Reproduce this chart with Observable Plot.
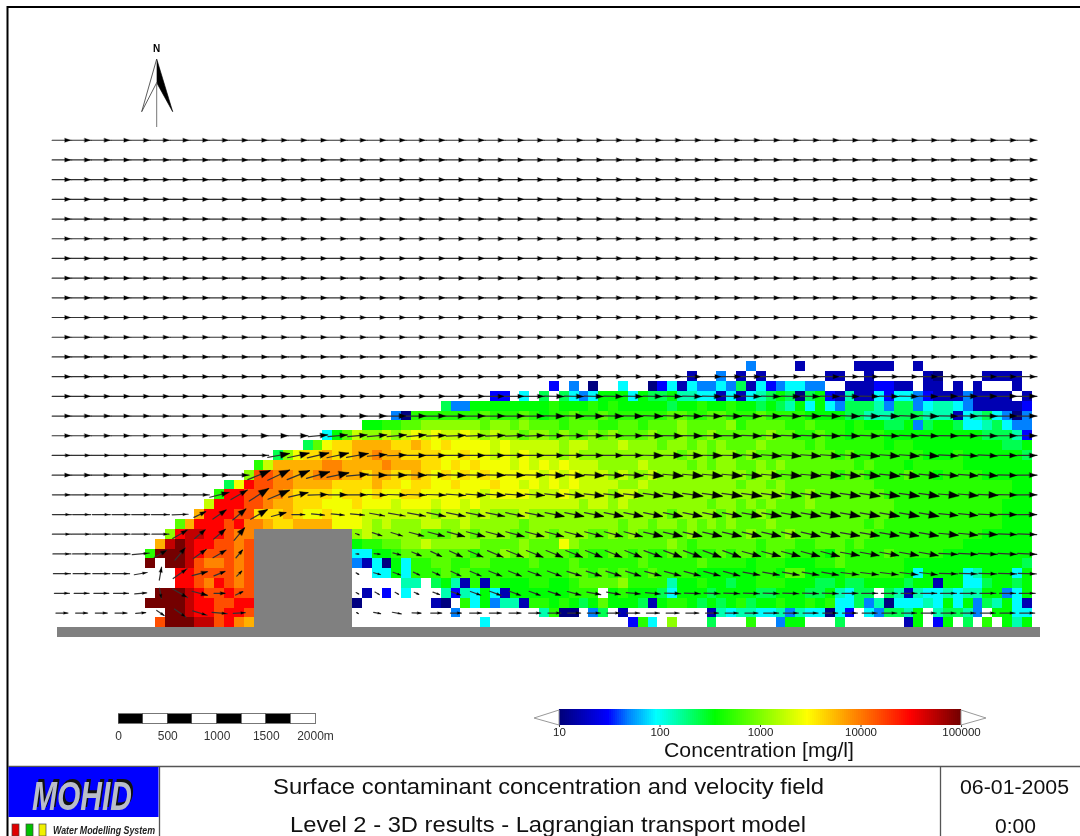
<!DOCTYPE html>
<html><head><meta charset="utf-8">
<script src="https://cdn.jsdelivr.net/npm/d3@7"></script>
<script src="https://cdn.jsdelivr.net/npm/@observablehq/plot@0.6"></script>
<style>
html,body{margin:0;padding:0;background:#fff;width:1080px;height:836px;overflow:hidden}
#page{position:relative;width:1080px;height:836px;font-family:"Liberation Sans",Arial,sans-serif;filter:blur(0.5px)}
#page>svg,#page>div{position:absolute;left:0;top:0}
</style></head><body><div id="page"></div>
<script>
// concentration level codes
const levelCodes = "abcdefghijklmnopqrst".split("");
const levelValues = [10.5,16,30,48,90,140,230,340,480,720,1120,1800,2600,3900,5900,8800,14500,30000,50000,95000];
const colorStops = [0,.12,.17,.24,.29,.385,.615,.74,.87,1];
const colorNames = ["#00007a","#0000ff","#0080ff","#00ffff","#00ffaa","#00ff00","#ffff00","#ff8000","#ff0000","#6e0000"];
// rows of cells, top row first; first char = column -1, then groups of ten columns
const cellRows = [
". .......... .......... .......... .......... .......... .......... d....b.... .bbbb..b.. .........",
". .......... .......... .......... .......... .......... ....b..d.b .b......bb ..b.....ba ....bbbb.",
". .......... .......... .......... .......... c.d.a..e.. acebeddedg becdeedd.. bbbccbb.bb .b.b...b.",
". .......... .......... .......... ....cc.e.g .gedehhheh gghffeebeb efghgaghcb fbbeceedcb bbdbbbb.b",
". .......... .......... .........g ddhhhhhhhh ihhhihihhh hhghhihhih hghgfhehed gggfdggdef fedbbbbbc",
". .......... .......... ....daiiii iiijiiijih iijiijiiii iijjiijjii ijiiiihhhh ggfffgggff fbefgedad",
". .......... .......... .hhiijjkkk kkkjkkjkjj jijjjiijji jjjkjjjjki jjjjiijiii hihhgghdgh hgeefgedd",
". .......... .......ehj lkklklmlml lmlklkkjkk jkjjkjkjjj kjjkjjkjjj jjkjjiijii hiiihhhhhh hhhhgggfc",
". .......... .....gjmnn oooonnonmn mmmmlmllll lkllkkklkk kjkkjkjkjj jkjjjjijii iiiihiihhh hhhhhhggh",
". .......... ..gkmnnonn oopoonnnnm mnmmlmlmll lklkkkkkkk kkkjkkjkkj kjjjjjjjji jiiiiiiihh hihhhhhhg",
". .......... iloooooppo ooopooonnm nmnmmmlmlm lmlllkkkkl kkkkjkjkkj jkjkjjjjjj jijiiihiii iihhhhhhh",
". .........k qqppoopppo onoonnonmn mnmnmmmmml mlmlllklkk lkkkkkkkkk jkkjjjjjji jjiiiijiih iiiihhhhh",
". .......gmr qqppoooonn nnonnmnnmm nmmmnmmlml mlmllllkkl kkkkkkkkkj kkjkjjjjjj jjjiiiiiii iiiiiiihh",
". ......irrq qpponnnnmn nmnmmnnmmm mmmlmmmmll lmllllkllk kkkkkkkkkk kkkkjjkjjj jjjjiiiiii iiiiiiihh",
". .....lrrrq qpoonnnmmm nmmmlmmmlm mlmlllllll lllkllklkk kkkkkkjkkj kjkjjjkjjj jjjjjiiiii iiiiiihhh",
". ....orrrqq nnnonmmnmm mlllllllkl llklkkklkk kkkkkkkkkk kkjkkkkjkj jkjjjjjjjj jjjjjiiiii iiiiiihhh",
". ..jorrrqrp ponnoooomm mlklkkkllk klkkkkkjkk kkkkkkkjkk jkkjkjkjkj jjkjjjjjjj jjijiiiiii iiiiiihhh",
". .krssrrqpp .......... klkkkkkjjj kkjkkkjjkk jkkkjjkjkj jjjjkjjjjj kjjjkjjjjj jjjiiiiiii iiiihhhhh",
". ostsrrqqpq .......... hiijjkklkk kkkjjjjkjj jmkjjjjjjj jjkjijjjjj jijjjiijjj ijiiiiiiii iihhhhhhh",
"i tttsrqqqpq .......... eehhijjjjj jjijjkjkjj jjijiijjij iijjiiijij jijjiiiihj iiiijiiiii hhhhhhhhh",
"t .ttsqppqpq .......... dbeaheiijj iijjiiiiji iijiiiiiij iiiiijiiii hiiihhhiij iiiiiihhhh hhhhhhhhg",
". ..rrqqqqpq .......... ..eeheiiij ijiiiiiiii iijjijijii jiiiihhhhh hiihjjhhhh iiiiiihehh hhefhhheh",
". ..rrqprqpq .......... .....ff.gh fbibihhhii hhijjjjkii iifhhihhgh hiiihhhggh gghhhhghhb hheeghhgh",
". tttsrqqrqq .......... .b.c.e...f cfehebhhhh hhiii.hihh hgehhhghhh hgghhhgghf egg.gfbfee feffhhdeh",
"t tttsrrqqrr .......... a.......ba .iehdffbii hihghjhhhg bhiihghghi ghhihhihie egdfaeeefe hehdgfheb",
". .ttsrrqrrq .......... .......... d........f iaa.dg.b.. ......bfef feefdfeeae c.edggfh.f ggfd.hhee",
". qtttssqrpo .......... .......... ...e...... ........ci e.k...g... i..dhh...g ......bh.c h.g.i.hfh"
];
// velocity arrows: clockwise degrees from north, drawn length, head size; top row first
const eastAngles = [90,90,90,90,90,90,90,90,90,90,90,90,90,90,90,90,90,90,90,90,90,90,90,90,90,90,90,90,90,90,90,90,90,90,90,90,90,90,90,90,90,90,90,90,90,90,90,90,90,90];
const eastLengths = [19.5,19.5,19.5,19.5,19.5,19.5,19.5,19.5,19.5,19.5,19.5,19.5,19.5,19.5,19.5,19.5,19.5,19.5,19.5,19.5,19.5,19.5,19.5,19.5,19.5,19.5,19.5,19.5,19.5,19.5,19.5,19.5,19.5,19.5,19.5,19.5,19.5,19.5,19.5,19.5,19.5,19.5,19.5,19.5,19.5,19.5,19.5,19.5,19.5,19.5];
const eastHeads = "55555555555555555555555555555555555555555555555555";
const arrowAngles = [eastAngles,eastAngles,eastAngles,eastAngles,eastAngles,eastAngles,eastAngles,eastAngles,eastAngles,eastAngles,eastAngles,eastAngles,eastAngles,
[90,90,90,90,90,90,90,90,90,90,90,90,90,90,90,90,90,90,90,90,90,90,90,90,90,91,91,91,91,91,91,91,91,91,91,91,91,91,91,91,91,91,91,91,91,90,90,90,90,90],
[90,90,90,90,90,90,90,90,90,90,90,90,90,90,90,90,90,90,90,90,90,90,90,90,90,91,91,91,91,91,92,92,92,92,92,92,92,92,92,92,92,92,92,92,92,91,91,91,90,90],
[90,90,90,90,90,90,90,90,90,90,90,90,90,85,85,85,85,85,85,88,88,88,88,88,88,90,90,90,90,90,91,91,91,91,91,92,92,92,92,92,92,92,92,92,92,91,91,91,90,90],
[90,90,90,90,90,90,90,90,90,90,90,80,78,77,78,80,85,88,90,90,90,90,90,90,90,90,90,90,90,90,91,91,91,91,91,94,94,94,94,94,94,94,94,94,94,93,93,93,91,90],
[90,90,90,90,90,90,90,90,90,90,68,65,68,74,78,85,90,90,91,91,91,91,91,91,91,93,93,93,93,93,95,95,95,95,95,95,95,95,95,95,96,96,96,96,96,94,94,94,92,90],
[90,90,90,90,90,90,90,90,76,60,57,67,77,88,90,90,92,92,92,92,94,94,94,94,94,96,96,96,96,96,98,98,98,98,98,98,98,98,98,98,98,98,98,98,98,95,95,93,91,90],
[90,90,90,90,90,90,88,64,55,50,60,75,90,95,95,95,100,100,100,101,101,101,101,101,101,101,101,101,101,101,101,101,101,101,101,100,100,100,100,100,100,100,100,100,100,96,96,93,91,90],
[90,90,90,90,90,90,60,50,50,40,0,0,0,0,0,110,108,107,105,105,105,105,105,105,105,105,105,105,105,105,103,103,103,103,103,103,103,103,103,103,100,100,100,100,100,96,96,92,92,92],
[90,90,90,90,85,60,40,55,60,40,0,0,0,0,0,95,95,105,113,115,115,113,113,112,112,112,112,112,112,112,110,110,110,110,110,105,105,105,105,105,100,100,100,100,100,93,93,93,93,93],
[90,90,90,90,80,10,55,75,68,45,0,0,0,0,0,120,105,110,115,115,115,113,112,112,110,110,108,108,108,108,105,105,105,105,105,100,100,100,100,100,97,97,97,97,97,92,92,92,92,92],
[90,90,90,90,85,170,120,105,90,65,0,0,0,0,0,120,120,120,115,110,110,110,110,110,110,108,105,100,100,95,95,92,92,92,92,92,92,92,92,92,90,90,90,90,90,90,90,90,90,90],
[90,90,90,90,85,125,125,107,95,87,0,0,0,0,0,120,100,100,92,90,90,90,90,90,90,90,90,90,90,90,90,90,90,90,90,90,90,90,90,90,90,90,90,90,90,90,90,90,90,90]
];
const arrowLengths = [eastLengths,eastLengths,eastLengths,eastLengths,eastLengths,eastLengths,eastLengths,eastLengths,eastLengths,eastLengths,eastLengths,eastLengths,eastLengths,eastLengths,eastLengths,eastLengths,
[19.5,19.5,19.5,19.5,19.5,19.5,19.5,19.5,19.5,19.5,19.5,22,22,22,22,22,19.5,19.5,19.5,19.5,19.5,19.5,19.5,19.5,19.5,19.5,19.5,19.5,19.5,19.5,19.5,19.5,19.5,19.5,19.5,19.5,19.5,19.5,19.5,19.5,19.5,19.5,19.5,19.5,19.5,19.5,19.5,19.5,19.5,19.5],
[19.5,19.5,19.5,19.5,19.5,19.5,19.5,19.5,19.5,19.5,24,24,24,24,22,22,19.5,19.5,19.5,19.5,19.5,19.5,19.5,19.5,19.5,19.5,19.5,19.5,19.5,19.5,19.5,19.5,19.5,19.5,19.5,19.5,19.5,19.5,19.5,19.5,19.5,19.5,19.5,19.5,19.5,19.5,19.5,19.5,19.5,19.5],
[19,19,19,19,19,19,19,19,20,19,23,23,20,20,19.5,19.5,19.5,19.5,19.5,19.5,19.5,19.5,19.5,19.5,19.5,19.5,19.5,19.5,19.5,19.5,19.5,19.5,19.5,19.5,19.5,19.5,19.5,19.5,19.5,19.5,19.5,19.5,19.5,19.5,19.5,19.5,19.5,19.5,19.5,19.5],
[19,18,18,18,18,18,16,13,16,17,19,15,13,13,13,14,15,17,18,19,19,19,19,19,19,19,19,19,19,19,19,19,19,19,19,19,19,19,19,19,19,19,19,19,19,19,19,19,19,19],
[19,19,18,18,18,17,17,14,15,16,0,0,0,0,0,4,10,12,15,17,18,19,19,19,19,19,19,19,19,19,19,19,19,19,19,19,19,19,19,19,19,19,19,19,19,19,19,19,19,19],
[18,18,18,18,17,14,16,16,15,10,0,0,0,0,0,3,6,8,10,12,14,16,17,18,18,18,18,18,18,18,19,19,19,19,19,19,19,19,19,19,19,19,19,19,19,19,19,19,19,19],
[17,17,17,17,13,13,17,16,12,7,0,0,0,0,0,3,7,8,7,8,11,12,14,14,14,15,15,16,16,16,17,17,17,17,17,17,17,17,17,17,18,18,18,18,18,18,18,18,18,18],
[15,15,15,15,12,10,17,16,11,8,0,0,0,0,0,3,5,4,5,7,10,11,12,12,12,13,14,14,14,14,15,16,16,16,16,16,16,16,16,16,16,16,16,16,16,16,16,16,16,16],
[12,12,12,12,10,9,14,15,15,12,0,0,0,0,0,2,7,9,9,11,11,12,12,12,12,13,13,13,13,13,13,13,13,13,13,13,15,15,15,15,15,15,15,15,15,15,15,15,15,15]
];
const arrowHeads = [eastHeads,eastHeads,eastHeads,eastHeads,eastHeads,eastHeads,eastHeads,eastHeads,eastHeads,eastHeads,eastHeads,eastHeads,eastHeads,
"55555555555555555555555556666666666666666666666666",
"55555555555555566666666667777777777777777777766666",
"55555555556666666666666666666677777777777766666666",
"44444444444888886666666666666688888888888888866666",
"55555555559999977777777778888899999999999999977766",
"44444444669976655555577777888889999999999999998866",
"33333335678633333345555558888888888999999999977666",
"33333355670000013345666666666688888888888888887755",
"33333555540000012344555566666667777777777777755555",
"33333445430000012223334444455555555555555555544444",
"33333345430000011122333334444444444444444333333333",
"33333333330000012233333333333333333333333333333333"
];
const scaleStarts = [0,250,500,750,1000,1250,1500,1750];
const scaleLabels = ["0","500","1000","1500","2000m"];
const scaleLabelMetres = [0,500,1000,1500,2000];
const barTicks = [10,100,1000,10000,100000];
const titleLines = ["Surface contaminant concentration and velocity field","Level 2 - 3D results - Lagrangian transport model"];

// tables built from the arrays above
const levelOf = Object.fromEntries(levelCodes.map((c,i)=>[c,levelValues[i]]));
const cells = [];
cellRows.forEach((s,ri)=>{
  const row = cellRows.length-1-ri;
  s.replace(/ /g,"").split("").forEach((c,i)=>{
    if(c!==".") cells.push({x1:(i-1)*100,x2:i*100,y1:row*100,y2:(row+1)*100,value:levelOf[c]});
  });
});
const pxPerMetre = 0.0985;
const arrows = [];
arrowAngles.forEach((row,ri)=>{
  const yv = 150+200*(arrowAngles.length-1-ri);
  row.forEach((a,k)=>{
    const len = arrowLengths[ri][k];
    if(!len) return;
    const rad = a*Math.PI/180, x = -950+200*k;
    arrows.push({x,y:yv,angle:a,len,head:+arrowHeads[ri][k]*1.15,
      hx:x+0.3*len*Math.sin(rad)/pxPerMetre, hy:yv+0.3*len*Math.cos(rad)/pxPerMetre});
  });
});
const colormap = d3.scaleLinear().domain(colorStops).range(colorNames).clamp(true);
const colorScale = {type:"log",domain:[10,100000],interpolate:colormap};
const shaft = {draw(c,l){c.moveTo(0,0);c.lineTo(0,-l);},r:0};
const headShape = {draw(c,l){const w=l*0.36;c.moveTo(-w,0);c.lineTo(0,-l);c.lineTo(w,0);c.closePath();},r:0};
const barOrigin = (118-155)/pxPerMetre;
const groundY = 627.3;

const main = Plot.plot({
  width:1080,height:836,margin:0,
  x:{domain:[-155/pxPerMetre,(1080-155)/pxPerMetre],range:[0,1080],axis:null},
  y:{domain:[groundY/pxPerMetre,(groundY-836)/pxPerMetre],range:[0,836],axis:null},
  color:colorScale,
  length:{type:"identity"},
  marks:[
    Plot.rect(cells,{x1:"x1",x2:"x2",y1:"y1",y2:"y2",fill:"value",shapeRendering:"crispEdges"}),
    Plot.rect([{a:0}],{x1:1000,x2:2000,y1:0,y2:1000,fill:"#808080",shapeRendering:"crispEdges"}),
    Plot.rect([{a:0}],{x1:-995,x2:8985,y1:-100,y2:0,fill:"#808080",shapeRendering:"crispEdges"}),
    Plot.vector(arrows,{x:"x",y:"y",rotate:"angle",length:"len",anchor:"middle",shape:shaft,stroke:"#333",strokeWidth:1.2}),
    Plot.vector(arrows.filter(d=>d.head>0),{x:"hx",y:"hy",rotate:"angle",length:"head",anchor:"middle",shape:headShape,fill:"#000",stroke:"#000",strokeWidth:0.3}),
    Plot.rect(scaleStarts,{x1:d=>barOrigin+d,x2:d=>barOrigin+d+250,y1:-880,y2:-975,
      fill:(d,i)=>i%2?"#fff":"#000",stroke:"#555",strokeWidth:0.8,shapeRendering:"crispEdges"}),
    Plot.text(scaleLabels,{x:(d,i)=>barOrigin+scaleLabelMetres[i],y:-1100,text:d=>d,fontSize:12,fill:"#333",
      fontFamily:"Liberation Sans",textAnchor:"middle"})
  ]
});
document.getElementById("page").appendChild(main);

const barSteps = d3.range(0,200).map(i=>Math.pow(10,1+4*i/200));
const bar = Plot.plot({
  width:1080,height:60,marginTop:9,marginBottom:35,marginLeft:559,marginRight:119,
  x:{type:"log",domain:[10,100000],axis:null},
  y:{domain:[0,1],axis:null},
  color:colorScale,
  marks:[
    Plot.rect(barSteps,{x1:d=>d,x2:(d,i)=>Math.pow(10,1+4*(i+1)/200),y1:0,y2:1,fill:d=>d,shapeRendering:"crispEdges"}),
    Plot.axisX({ticks:barTicks,tickFormat:d3.format("d"),tickSize:2,tickPadding:0,fontSize:11.5,
      fontFamily:"Liberation Sans",color:"#222",stroke:"#333"})
  ]
});
const barBox = document.createElement("div");
barBox.style.top="700px";barBox.appendChild(bar);
document.getElementById("page").appendChild(barBox);

const ns = "http://www.w3.org/2000/svg";
const over = document.createElementNS(ns,"svg");
over.setAttribute("width",1080);over.setAttribute("height",836);
over.innerHTML = `
<g fill="none">
<path d="M7.5 836V7H1080" stroke="#000" stroke-width="2"/>
<path d="M8 766.5H1080M159.5 766.5V836M940.5 766.5V836" stroke="#555" stroke-width="1.3"/>
</g>
<path d="M534 718L559 710V725Z M986 718L961 710V725Z" fill="#fff" stroke="#999" stroke-width="1"/>
<g>
<path d="M156.7 59L141.7 111.7L156.7 82.7L172.7 111.7Z" fill="#fff" stroke="#333" stroke-width="0.8"/>
<path d="M156.7 59L172.7 111.7L156.7 82.7Z" fill="#000"/>
<path d="M156.7 82V127" stroke="#777" stroke-width="1"/>
<text x="156.5" y="52" font-size="10" font-weight="bold" text-anchor="middle" font-family="Liberation Sans">N</text>
</g>
<rect x="8.5" y="767" width="150" height="50" fill="#0000ff"/>
<text x="32" y="810" font-family="Liberation Sans" font-weight="bold" font-style="italic" font-size="40" fill="#b9bdc9" textLength="100" lengthAdjust="spacingAndGlyphs" style="filter:drop-shadow(2px -3px 0 #111)">MOHID</text>
<rect x="12" y="824" width="7" height="12" fill="#e00000" stroke="#444" stroke-width="0.7"/>
<rect x="26" y="824" width="7" height="12" fill="#00c000" stroke="#444" stroke-width="0.7"/>
<rect x="39" y="824" width="7" height="12" fill="#f0f000" stroke="#444" stroke-width="0.7"/>
<text x="53" y="834" font-family="Liberation Sans" font-weight="bold" font-style="italic" font-size="10" fill="#222" textLength="102" lengthAdjust="spacingAndGlyphs">Water Modelling System</text>
<text x="664" y="757" font-family="Liberation Sans" font-size="20" fill="#111" textLength="190" lengthAdjust="spacingAndGlyphs">Concentration [mg/l]</text>
<text x="273" y="794" font-family="Liberation Sans" font-size="22" fill="#111" textLength="551" lengthAdjust="spacingAndGlyphs">${titleLines[0]}</text>
<text x="290" y="832" font-family="Liberation Sans" font-size="22" fill="#111" textLength="516" lengthAdjust="spacingAndGlyphs">${titleLines[1]}</text>
<text x="960" y="794" font-family="Liberation Sans" font-size="20" fill="#111" textLength="109" lengthAdjust="spacingAndGlyphs">06-01-2005</text>
<text x="995" y="833" font-family="Liberation Sans" font-size="20" fill="#111" textLength="41" lengthAdjust="spacingAndGlyphs">0:00</text>
`;
document.getElementById("page").appendChild(over);
</script></body></html>
